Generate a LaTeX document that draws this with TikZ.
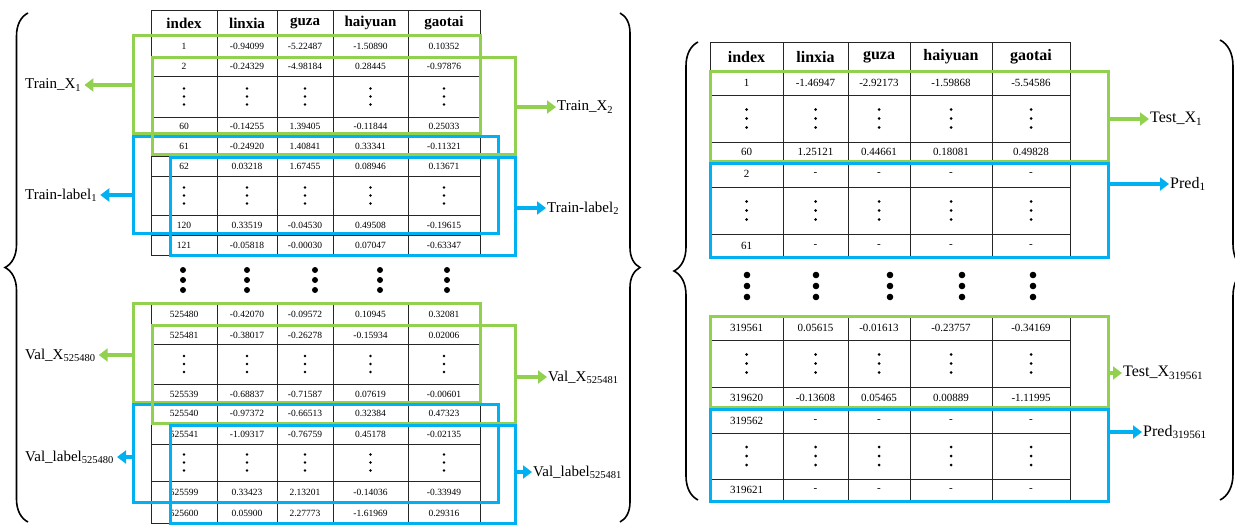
\documentclass[tikz,border=0pt]{standalone}
\usepackage{fontspec}
\setmainfont{Liberation Serif}
\usetikzlibrary{decorations.pathreplacing,arrows.meta}
\definecolor{lgreen}{RGB}{146,208,80}
\definecolor{lblue}{RGB}{0,176,240}
\newcommand{\Lrow}[7]{%
 \node[ltxt] (#1a) at (184,#2) {#3};
 \node[ltxt] (#1b) at (247,#2) {#4};
 \node[ltxt] (#1c) at (305,#2) {#5};
 \node[ltxt] (#1d) at (370.5,#2) {#6};
 \node[ltxt] (#1e) at (444,#2) {#7};}
\newcommand{\Rrow}[7]{%
 \node[rtxt] (#1a) at (746.5,#2) {#3};
 \node[rtxt] (#1b) at (815.5,#2) {#4};
 \node[rtxt] (#1c) at (879,#2) {#5};
 \node[rtxt] (#1d) at (951,#2) {#6};
 \node[rtxt] (#1e) at (1031,#2) {#7};}
\newcommand{\Ldotrow}[1]{%
 \foreach \cx in {184,247,305,370.5,444}{%
  \fill (\cx,{#1-8}) circle (1.4pt);
  \fill (\cx,#1) circle (1.4pt);
  \fill (\cx,{#1+8}) circle (1.4pt);}}
\newcommand{\Rdotrow}[1]{%
 \foreach \cx in {746.5,815.5,879,951,1031}{%
  \fill (\cx,{#1-9}) circle (1.5pt);
  \fill (\cx,#1) circle (1.5pt);
  \fill (\cx,{#1+9}) circle (1.5pt);}}
\begin{document}
\begin{tikzpicture}[x=1pt,y=-1pt,
  grid/.style={line width=0.9pt, draw=black!85},
  ltxt/.style={font=\fontsize{9.5}{11}\selectfont, inner sep=0pt},
  rtxt/.style={font=\fontsize{11}{13}\selectfont, inner sep=0pt},
  lhead/.style={font=\fontsize{15}{17}\selectfont\bfseries, inner sep=0pt},
  rhead/.style={font=\fontsize{16}{18}\selectfont\bfseries, inner sep=0pt},
  lab/.style={font=\fontsize{15}{17}\selectfont, inner xsep=3pt, inner ysep=0pt},
  rlab/.style={font=\fontsize{16}{18}\selectfont, inner xsep=1pt, inner ysep=0pt},
  gbox/.style={draw=lgreen, line width=3pt},
  bbox/.style={draw=lblue, line width=3pt},
  garrow/.style={draw=lgreen, line width=4pt, -{Triangle[length=9pt,width=13pt]}},
  barrow/.style={draw=lblue, line width=4pt, -{Triangle[length=9pt,width=13pt]}},
  bracestyle/.style={line width=1.6pt, decorate, decoration={brace, amplitude=#1}},
]
\useasboundingbox (0,0) rectangle (1235,525);

% ---------- left panel: upper table grid ----------
\foreach \yy in {10,35,56,76,117,136,156,176,215,235,255}
  \draw[grid] (151,\yy) -- (480,\yy);
\foreach \xx in {151,217,277,333,408,480}
  \draw[grid] (\xx,10) -- (\xx,255);
% lower table grid
\foreach \yy in {303,325,344,384,403,423,444,481,502,523}
  \draw[grid] (151,\yy) -- (480,\yy);
\foreach \xx in {151,217,277,333,408,480}
  \draw[grid] (\xx,303) -- (\xx,523);

\node[lhead] (lh1) at (184,23) {index};
\node[lhead] (lh2) at (247,23) {linxia};
\node[lhead] (lh3) at (305,23) {guza};
\node[lhead] (lh4) at (370.5,23) {haiyuan};
\node[lhead] (lh5) at (444,23) {gaotai};

\Lrow{la}{46}{1}{-0.94099}{-5.22487}{-1.50890}{0.10352}
\Lrow{lb}{66}{2}{-0.24329}{-4.98184}{0.28445}{-0.97876}
\Ldotrow{96.5}
\Lrow{lc}{126}{60}{-0.14255}{1.39405}{-0.11844}{0.25033}
\Lrow{ld}{146}{61}{-0.24920}{1.40841}{0.33341}{-0.11321}
\Lrow{le}{166}{62}{0.03218}{1.67455}{0.08946}{0.13671}
\Ldotrow{195.5}
\Lrow{lf}{225}{120}{0.33519}{-0.04530}{0.49508}{-0.19615}
\Lrow{lg}{245}{121}{-0.05818}{-0.00030}{0.07047}{-0.63347}

\foreach \cx in {183,247,315,380,447}
  \foreach \cy in {270,280,290}
    \fill (\cx,\cy) circle (3pt);

\Lrow{lh}{314}{525480}{-0.42070}{-0.09572}{0.10945}{0.32081}
\Lrow{li}{335}{525481}{-0.38017}{-0.26278}{-0.15934}{0.02006}
\Ldotrow{364}
\Lrow{lj}{394}{525539}{-0.68837}{-0.71587}{0.07619}{-0.00601}
\Lrow{lk}{413}{525540}{-0.97372}{-0.66513}{0.32384}{0.47323}
\Lrow{ll}{434}{525541}{-1.09317}{-0.76759}{0.45178}{-0.02135}
\Ldotrow{462.5}
\Lrow{lm}{492}{525599}{0.33423}{2.13201}{-0.14036}{-0.33949}
\Lrow{ln}{513}{525600}{0.05900}{2.27773}{-1.61969}{0.29316}

% boxes left
\draw[gbox] (133,35) rectangle (480,133);
\draw[bbox] (133,136) rectangle (498,233);
\draw[gbox] (152,57) rectangle (515,154);
\draw[bbox] (170,157) rectangle (515,255);
\draw[gbox] (133,303) rectangle (480,402);
\draw[bbox] (133,404) rectangle (498,502);
\draw[gbox] (152,325) rectangle (515,423);
\draw[bbox] (170,425) rectangle (515,523);

% labels left
\node[lab, anchor=west] (trx1) at (22,85) {Train\_X\textsubscript{1}};
\draw[garrow] (133,85) -- (trx1.east);
\node[lab, anchor=west] (trl1) at (22,195) {Train-label\textsubscript{1}};
\draw[barrow] (133,195) -- (trl1.east);
\node[lab, inner xsep=1pt, anchor=west] (trx2) at (556,107) {Train\_X\textsubscript{2}};
\draw[garrow] (515,107) -- (trx2.west);
\node[lab, inner xsep=1pt, anchor=west] (trl2) at (546,208) {Train-label\textsubscript{2}};
\draw[barrow] (515,208) -- (trl2.west);
\node[lab, anchor=west] (vx1) at (22,355) {Val\_X\textsubscript{525480}};
\draw[garrow] (133,355) -- (vx1.east);
\node[lab, anchor=west] (vl1) at (22,457) {Val\_label\textsubscript{525480}};
\draw[barrow] (133,457) -- (vl1.east);
\node[lab, inner xsep=1pt, anchor=west] (vx2) at (547,377) {Val\_X\textsubscript{525481}};
\draw[garrow] (515,377) -- (vx2.west);
\node[lab, inner xsep=1pt, anchor=west] (vl2) at (532,472) {Val\_label\textsubscript{525481}};
\draw[barrow] (515,472) -- (vl2.west);

% braces left panel
\draw[bracestyle=23pt] (28,522) -- (28,13);
\draw[bracestyle=20pt] (620,13) -- (620,522);

% ---------- right panel ----------
\foreach \yy in {42,71,95,142,161,187,234,257}
  \draw[grid] (710,\yy) -- (1070,\yy);
\foreach \xx in {710,783,848,910,992,1070}
  \draw[grid] (\xx,42) -- (\xx,257);
\foreach \yy in {316,340,387,408,433,479,501}
  \draw[grid] (710,\yy) -- (1070,\yy);
\foreach \xx in {710,783,848,910,992,1070}
  \draw[grid] (\xx,316) -- (\xx,501);

\node[rhead] (rh1) at (746.5,57) {index};
\node[rhead] (rh2) at (815.5,57) {linxia};
\node[rhead] (rh3) at (879,57) {guza};
\node[rhead] (rh4) at (951,57) {haiyuan};
\node[rhead] (rh5) at (1031,57) {gaotai};

\Rrow{ra}{83}{1}{-1.46947}{-2.92173}{-1.59868}{-5.54586}
\Rdotrow{118.5}
\Rrow{rb}{151.5}{60}{1.25121}{0.44661}{0.18081}{0.49828}
\Rrow{rc}{174}{2}{-}{-}{-}{-}
\Rdotrow{210.5}
\Rrow{rd}{245.5}{61}{-}{-}{-}{-}

\foreach \cx in {747,816,890,962,1033}
  \foreach \cy in {275,286,297}
    \fill (\cx,\cy) circle (3.3pt);

\Rrow{re}{328}{319561}{0.05615}{-0.01613}{-0.23757}{-0.34169}
\Rdotrow{363.5}
\Rrow{rf}{397.5}{319620}{-0.13608}{0.05465}{0.00889}{-1.11995}
\Rrow{rg}{420.5}{319562}{-}{-}{-}{-}
\Rdotrow{456}
\Rrow{rh}{490}{319621}{-}{-}{-}{-}

\draw[gbox] (710,71) rectangle (1108,161);
\draw[bbox] (710,163) rectangle (1108,257);
\draw[gbox] (710,316) rectangle (1108,407);
\draw[bbox] (710,409) rectangle (1108,501);

\node[rlab, anchor=west] (tx1) at (1149,119) {Test\_X\textsubscript{1}};
\draw[garrow] (1108,119) -- (tx1.west);
\node[rlab, anchor=west] (pr1) at (1169,184) {Pred\textsubscript{1}};
\draw[barrow] (1108,184) -- (pr1.west);
\node[rlab, anchor=west] (tx2) at (1122,373) {Test\_X\textsubscript{319561}};
\draw[garrow] (1108,373) -- (tx2.west);
\node[rlab, anchor=west] (pr2) at (1142,432) {Pred\textsubscript{319561}};
\draw[barrow] (1108,432) -- (pr2.west);

\draw[bracestyle=24pt] (698,500) -- (698,42);
\draw[bracestyle=26pt] (1220,40) -- (1220,500);
\end{tikzpicture}
\end{document}
